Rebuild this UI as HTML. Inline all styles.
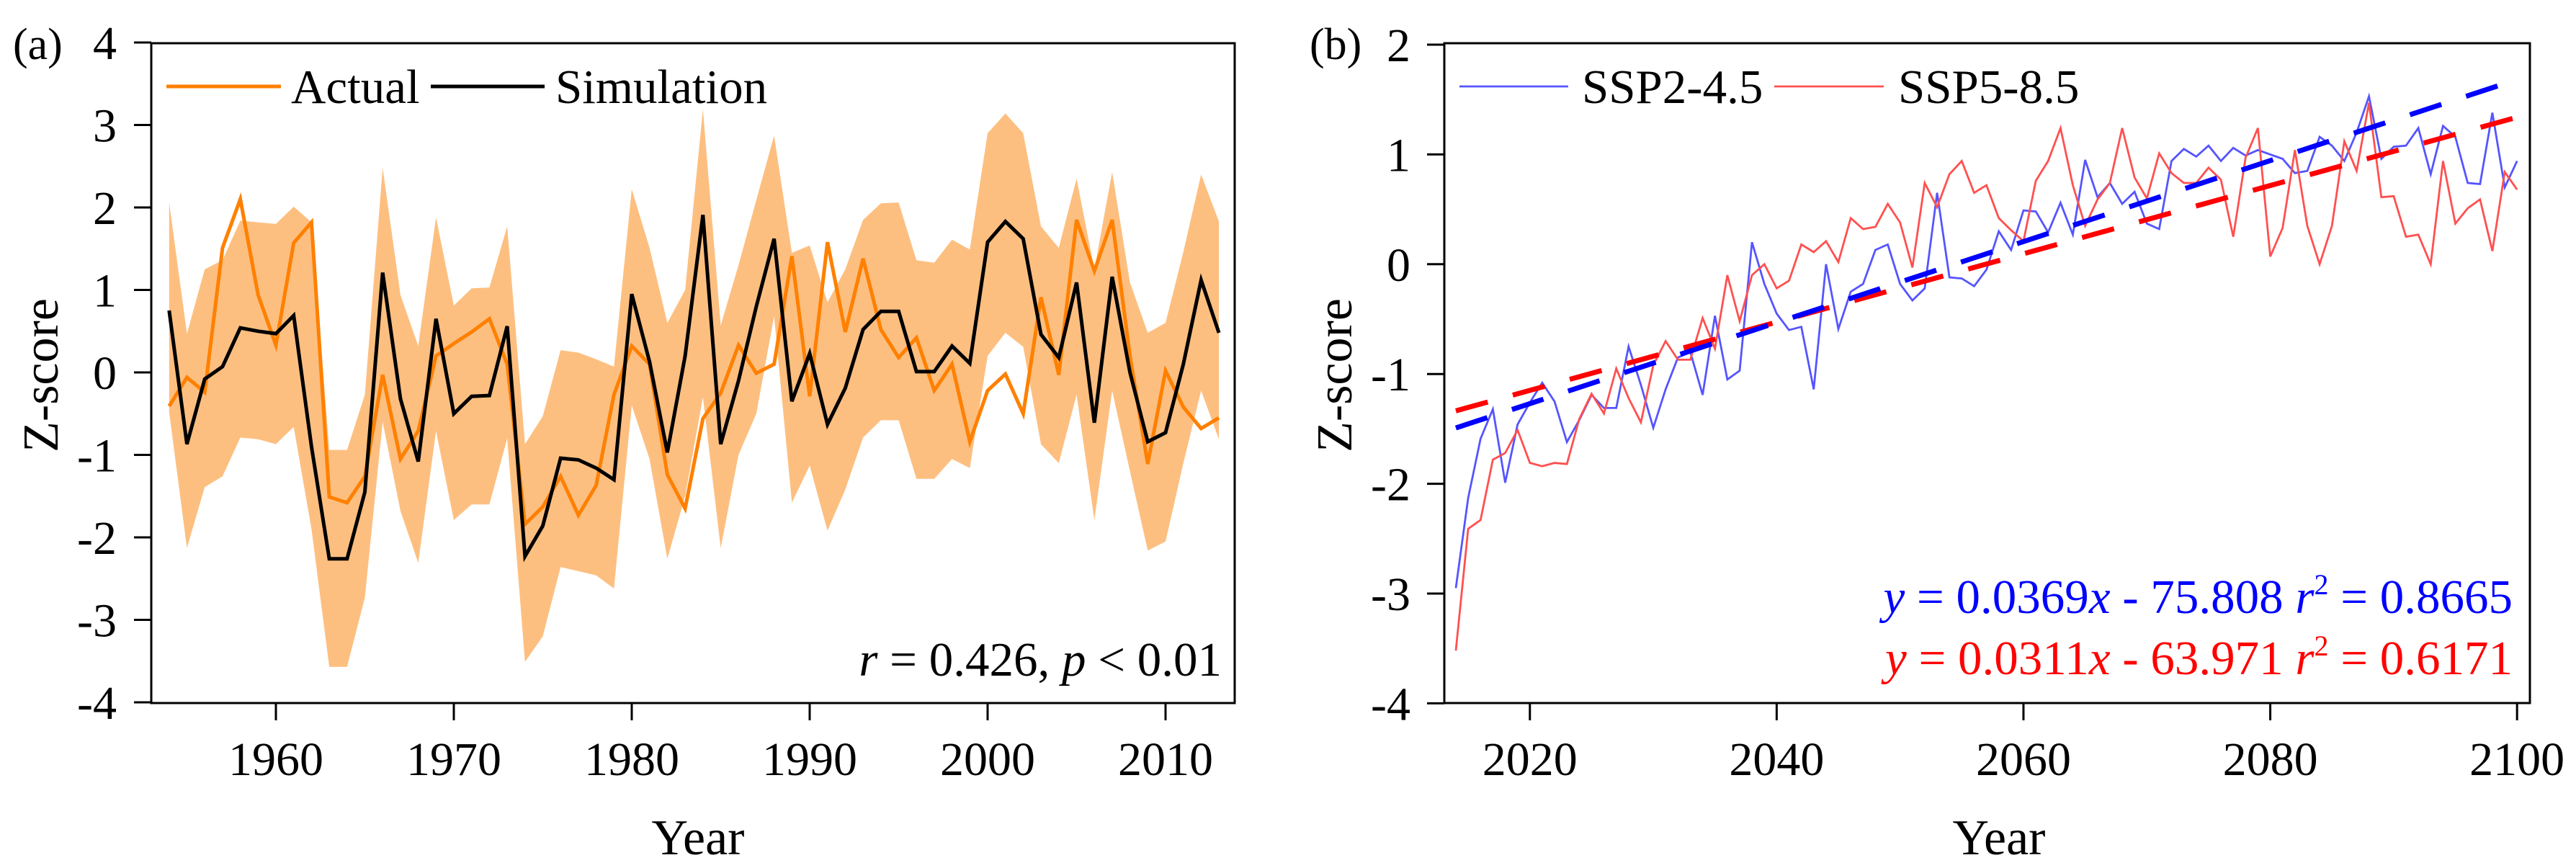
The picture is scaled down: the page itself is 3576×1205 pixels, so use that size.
<!DOCTYPE html>
<html><head><meta charset="utf-8">
<style>
html,body{margin:0;padding:0;background:#fff;}
svg{display:block;}
svg text{font-family:"Liberation Serif","DejaVu Serif",serif;}
</style></head>
<body>
<svg id="chart" width="3576" height="1205" viewBox="0 0 3576 1205" xmlns="http://www.w3.org/2000/svg" font-family="Liberation Serif, serif"></svg>
<script>
// ---------- Panel (a) data ----------
const yearsA = [];
for (let y = 1954; y <= 2013; y++) yearsA.push(y);
const actualA = [-0.41,-0.06,-0.24,1.51,2.10,0.94,0.33,1.57,1.82,-1.51,-1.58,-1.26,-0.03,-1.05,-0.71,0.20,0.35,0.49,0.65,0.10,-1.84,-1.63,-1.26,-1.73,-1.37,-0.27,0.32,0.10,-1.24,-1.65,-0.56,-0.25,0.33,-0.01,0.10,1.41,-0.29,1.58,0.49,1.38,0.52,0.18,0.42,-0.22,0.10,-0.84,-0.22,-0.02,-0.50,0.91,-0.03,1.85,1.23,1.85,0.20,-1.11,0.02,-0.42,-0.68,-0.55];
const simA = [0.75,-0.87,-0.08,0.07,0.54,0.50,0.47,0.69,-0.90,-2.26,-2.26,-1.45,1.21,-0.32,-1.08,0.65,-0.50,-0.29,-0.28,0.56,-2.23,-1.86,-1.04,-1.06,-1.16,-1.30,0.95,0.13,-0.97,0.20,1.91,-0.87,-0.10,0.80,1.62,-0.35,0.23,-0.63,-0.19,0.52,0.74,0.74,0.01,0.01,0.32,0.11,1.58,1.83,1.62,0.46,0.18,1.09,-0.61,1.16,0.00,-0.84,-0.73,0.10,1.12,0.48];
const upperA = [2.06,0.47,1.25,1.36,1.84,1.82,1.80,2.01,1.82,-0.94,-0.94,-0.27,2.48,0.94,0.32,1.88,0.81,1.02,1.03,1.77,-0.87,-0.53,0.27,0.24,0.16,0.07,2.22,1.51,0.60,1.00,3.19,0.57,1.30,2.09,2.87,1.45,1.54,0.85,1.25,1.85,2.05,2.06,1.36,1.33,1.61,1.49,2.90,3.14,2.90,1.77,1.51,2.35,1.25,2.43,1.09,0.48,0.60,1.46,2.40,1.83];
const lowerA = [-0.48,-2.13,-1.39,-1.26,-0.79,-0.81,-0.87,-0.66,-1.90,-3.57,-3.57,-2.73,-0.60,-1.68,-2.31,-0.71,-1.79,-1.60,-1.60,-0.80,-3.51,-3.20,-2.36,-2.41,-2.46,-2.62,-0.40,-1.05,-2.26,-1.50,-0.30,-2.13,-1.00,-0.50,0.68,-1.58,-1.13,-1.92,-1.42,-0.79,-0.58,-0.58,-1.29,-1.29,-1.05,-1.16,0.20,0.48,0.31,-0.87,-1.10,-0.27,-1.79,-0.22,-1.20,-2.16,-2.05,-1.10,-0.22,-0.81];
const yTicksA = [-4,-3,-2,-1,0,1,2,3,4];
const xTicksA = [1960,1970,1980,1990,2000,2010];

// ---------- Panel (b) data ----------
const yearsB = [];
for (let y = 2014; y <= 2100; y++) yearsB.push(y);
const ssp245 = [-2.95,-2.13,-1.59,-1.32,-1.99,-1.46,-1.26,-1.08,-1.25,-1.62,-1.42,-1.19,-1.31,-1.31,-0.75,-1.10,-1.49,-1.14,-0.85,-0.80,-1.19,-0.47,-1.05,-0.97,0.20,-0.18,-0.45,-0.60,-0.57,-1.14,0.00,-0.59,-0.25,-0.18,0.13,0.18,-0.18,-0.33,-0.22,0.65,-0.12,-0.13,-0.20,-0.05,0.30,0.13,0.49,0.48,0.29,0.56,0.27,0.95,0.61,0.74,0.55,0.66,0.37,0.32,0.94,1.05,0.98,1.08,0.94,1.06,0.99,1.04,1.00,0.96,0.83,0.85,1.16,1.08,0.94,1.20,1.53,0.96,1.07,1.08,1.24,0.82,1.26,1.16,0.74,0.73,1.38,0.70,0.94];
const ssp585 = [-3.52,-2.41,-2.33,-1.78,-1.72,-1.51,-1.81,-1.84,-1.81,-1.82,-1.41,-1.18,-1.36,-0.95,-1.22,-1.44,-0.92,-0.70,-0.87,-0.87,-0.49,-0.77,-0.10,-0.52,-0.10,0.00,-0.22,-0.15,0.18,0.11,0.21,0.02,0.42,0.32,0.34,0.55,0.38,-0.03,0.74,0.52,0.82,0.94,0.65,0.72,0.42,0.31,0.21,0.76,0.94,1.24,0.72,0.35,0.59,0.74,1.24,0.79,0.60,1.01,0.83,0.74,0.74,0.88,0.77,0.25,0.97,1.24,0.07,0.33,1.04,0.35,0.00,0.35,1.12,0.85,1.47,0.61,0.62,0.25,0.27,0.00,0.94,0.37,0.51,0.59,0.12,0.84,0.68];
const trend245 = [0.0369, -75.808];
const trend585 = [0.0311, -63.971];
const yTicksB = [-4,-3,-2,-1,0,1,2];
const xTicksB = [2020,2040,2060,2080,2100];

const NS = "http://www.w3.org/2000/svg";
const svg = document.getElementById("chart");
const FF = "Liberation Serif, DejaVu Serif, serif";
function mk(tag, attrs, parent) {
  const e = document.createElementNS(NS, tag);
  for (const k in attrs) e.setAttribute(k, attrs[k]);
  (parent || svg).appendChild(e);
  return e;
}
function txt(str, attrs, parent) {
  attrs["font-family"] = FF;
  const t = mk("text", attrs, parent);
  t.textContent = str;
  return t;
}
function pathFrom(xs, ys, sx, sy) {
  return xs.map((x, i) => (i ? "L" : "M") + sx(x).toFixed(1) + "," + sy(ys[i]).toFixed(1)).join("");
}

// ===== Panel A =====
const A = {l:210, r:1714, t:60, b:976};
const sxA = y => 383 + (y - 1960) * 24.7;
const syA = v => 517 - v * 114.5;
const gA = mk("g", {});



let bandD = pathFrom(yearsA, upperA, sxA, syA);
for (let i = yearsA.length - 1; i >= 0; i--) bandD += "L" + sxA(yearsA[i]).toFixed(1) + "," + syA(lowerA[i]).toFixed(1);
const band = mk("path", {d: bandD + "Z", fill: "#fdbf80", stroke: "none"}, gA);



const actLine = mk("path", {d: pathFrom(yearsA, actualA, sxA, syA), fill: "none", stroke: "#ff8000", "stroke-width": 5}, gA);


const simLine = mk("path", {d: pathFrom(yearsA, simA, sxA, syA), fill: "none", stroke: "#000", "stroke-width": 5}, gA);



const frameA = mk("rect", {x: A.l, y: A.t, width: A.r - A.l, height: A.b - A.t, fill: "none", stroke: "#000", "stroke-width": 3}, gA);



yTicksA.forEach(v => {
  const y = syA(v);
  const tk = mk("line", {x1: A.l - 24, x2: A.l, y1: y, y2: y, stroke: "#000", "stroke-width": 3}, gA);
  
  
  const lb = txt(String(v), {x: 162, y: y + 23, "text-anchor": "end", "font-size": 66}, gA);
  
  
});
xTicksA.forEach(v => {
  const x = sxA(v);
  const tk = mk("line", {x1: x, x2: x, y1: A.b, y2: A.b + 24, stroke: "#000", "stroke-width": 3}, gA);
  
  
  const lb = txt(String(v), {x: x, y: 1076, "text-anchor": "middle", "font-size": 66}, gA);
  
  
});

let e;
e = txt("(a)", {x: 18, y: 82, "font-size": 62});


e = txt("Year", {x: 969, y: 1186, "text-anchor": "middle", "font-size": 70});


e = txt("Z-score", {x: 0, y: 0, "text-anchor": "middle", "font-size": 70, transform: "translate(80,521) rotate(-90)"});



e = mk("line", {x1: 231, x2: 390, y1: 120, y2: 120, stroke: "#ff8000", "stroke-width": 5});


e = txt("Actual", {x: 404, y: 143, "font-size": 67});


e = mk("line", {x1: 598, x2: 756, y1: 120, y2: 120, stroke: "#000", "stroke-width": 5});


e = txt("Simulation", {x: 771, y: 143, "font-size": 67});



e = mk("text", {x: 1696, y: 938, "text-anchor": "end", "font-size": 67, "font-family": FF});
e.innerHTML = '<tspan font-style="italic">r</tspan> = 0.426, <tspan font-style="italic">p</tspan> &lt; 0.01';



// ===== Panel B =====
const B = {l:2005, r:3512, t:60, b:976};
const sxB = y => 2021 + (y - 2014) * 17.13;
const syB = v => 366.8 - v * 152.4;
const gB = mk("g", {});



e = mk("path", {d: pathFrom(yearsB, ssp245, sxB, syB), fill: "none", stroke: "#5555ff", "stroke-width": 2.8}, gB);


e = mk("path", {d: pathFrom(yearsB, ssp585, sxB, syB), fill: "none", stroke: "#ff5050", "stroke-width": 2.8}, gB);



const x0 = yearsB[0], x1 = yearsB[yearsB.length - 1];
e = mk("line", {x1: sxB(x0), y1: syB(trend585[0]*x0 + trend585[1]), x2: sxB(x1), y2: syB(trend585[0]*x1 + trend585[1]), stroke: "#ff0000", "stroke-width": 7, "stroke-dasharray": "46 36"}, gB);


e = mk("line", {x1: sxB(x0), y1: syB(trend245[0]*x0 + trend245[1]), x2: sxB(x1), y2: syB(trend245[0]*x1 + trend245[1]), stroke: "#0000ff", "stroke-width": 7, "stroke-dasharray": "46 36"}, gB);



e = mk("rect", {x: B.l, y: B.t, width: B.r - B.l, height: B.b - B.t, fill: "none", stroke: "#000", "stroke-width": 3}, gB);



yTicksB.forEach(v => {
  const y = syB(v);
  const tk = mk("line", {x1: B.l - 24, x2: B.l, y1: y, y2: y, stroke: "#000", "stroke-width": 3}, gB);
  
  
  const lb = txt(String(v), {x: 1958, y: y + 23, "text-anchor": "end", "font-size": 66}, gB);
  
  
});
xTicksB.forEach(v => {
  const x = sxB(v);
  const tk = mk("line", {x1: x, x2: x, y1: B.b, y2: B.b + 24, stroke: "#000", "stroke-width": 3}, gB);
  
  
  const lb = txt(String(v), {x: x, y: 1076, "text-anchor": "middle", "font-size": 66}, gB);
  
  
});

e = txt("(b)", {x: 1818, y: 82, "font-size": 62});


e = txt("Year", {x: 2775, y: 1186, "text-anchor": "middle", "font-size": 70});


e = txt("Z-score", {x: 0, y: 0, "text-anchor": "middle", "font-size": 70, transform: "translate(1876,521) rotate(-90)"});



e = mk("line", {x1: 2026, x2: 2177, y1: 120, y2: 120, stroke: "#5555ff", "stroke-width": 2.8});


e = txt("SSP2-4.5", {x: 2196, y: 143, "font-size": 67});


e = mk("line", {x1: 2463, x2: 2615, y1: 120, y2: 120, stroke: "#ff5050", "stroke-width": 2.8});


e = txt("SSP5-8.5", {x: 2635, y: 143, "font-size": 67});



e = mk("text", {x: 3488, y: 851, "text-anchor": "end", "font-size": 67, fill: "#0000ff", "font-family": FF});
e.innerHTML = '<tspan font-style="italic">y</tspan> = 0.0369<tspan font-style="italic">x</tspan> - 75.808 <tspan font-style="italic">r</tspan><tspan font-size="40" dy="-26">2</tspan><tspan dy="26"> = 0.8665</tspan>';


e = mk("text", {x: 3488, y: 936, "text-anchor": "end", "font-size": 67, fill: "#ff0000", "font-family": FF});
e.innerHTML = '<tspan font-style="italic">y</tspan> = 0.0311<tspan font-style="italic">x</tspan> - 63.971 <tspan font-style="italic">r</tspan><tspan font-size="40" dy="-26">2</tspan><tspan dy="26"> = 0.6171</tspan>';


</script>
</body></html>
